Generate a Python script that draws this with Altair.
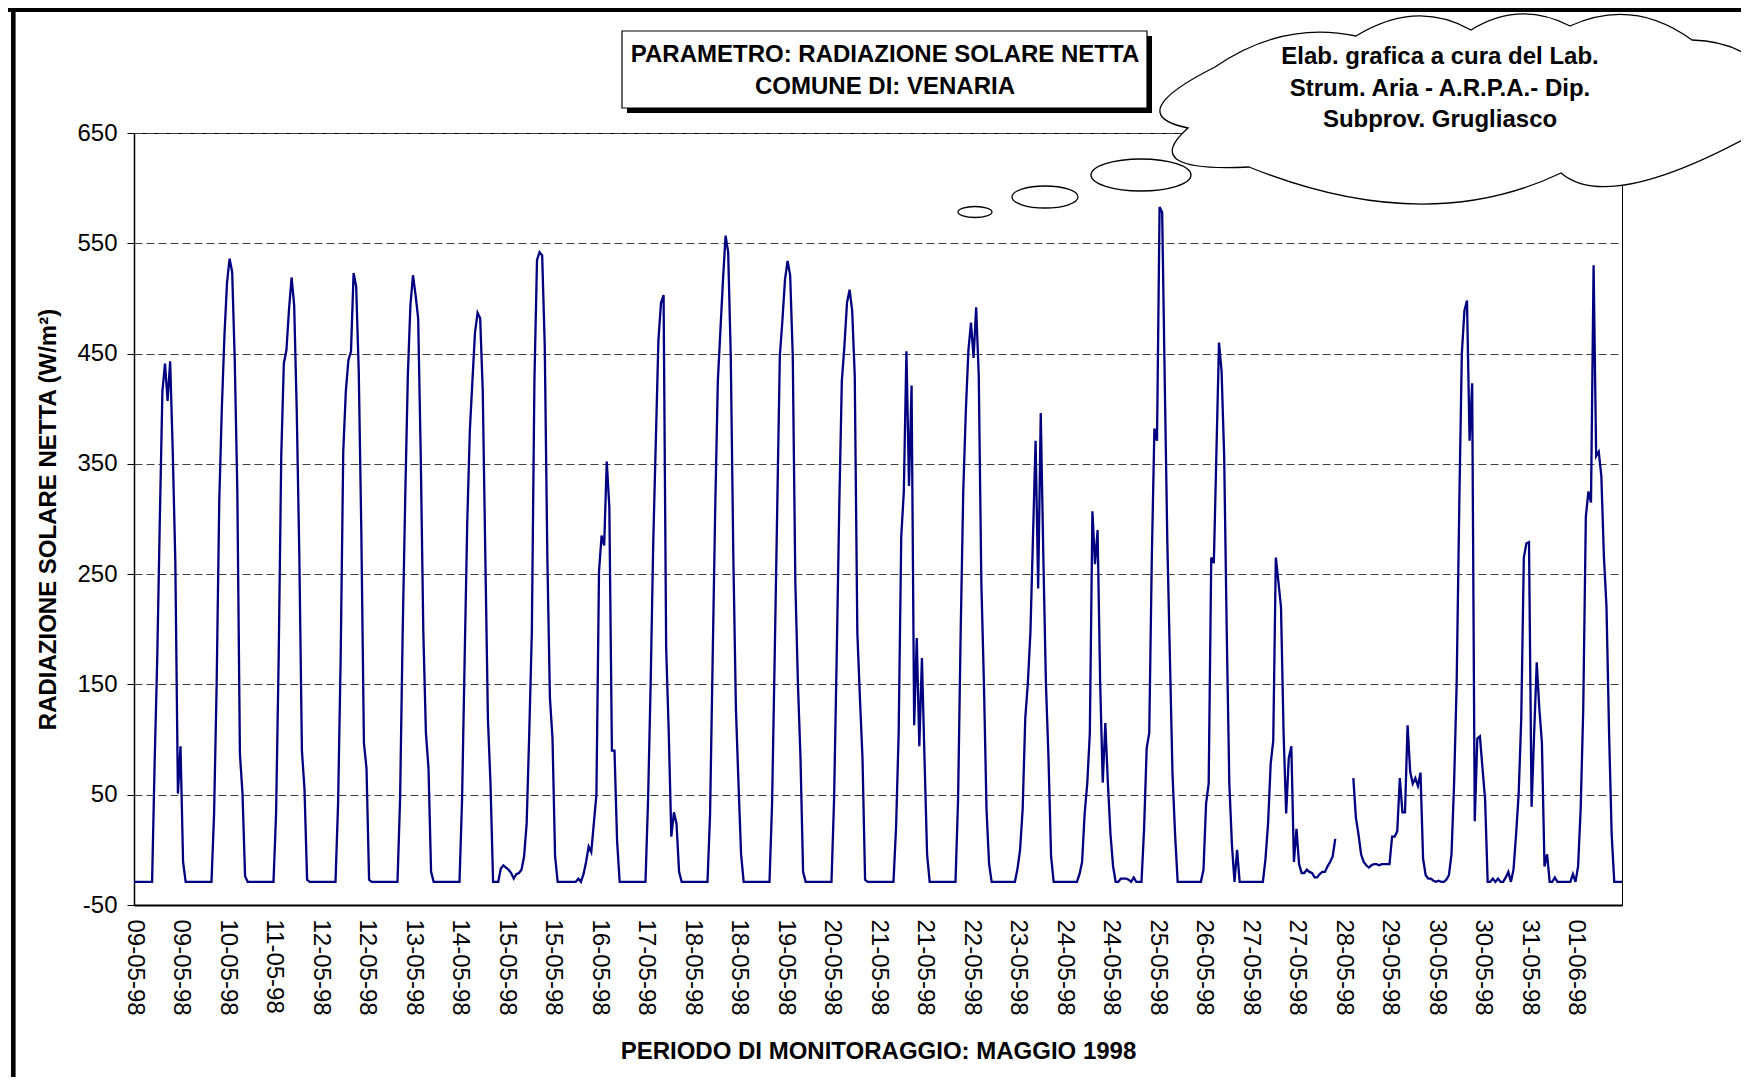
import altair as alt
import pandas as pd

# ---------------- data: hourly net solar radiation (W/m2), one list per day ----------------
may09 = [-29, -29, -29, -29, -29, -29, -29, -29, 80, 174, 300, 416, 441, 407, 443, 361, 261, 51, 94, -11, -29, -29, -29, -29]
may10 = [-29, -29, -29, -29, -29, -29, -29, 33, 151, 316, 400, 466, 514, 536, 524, 444, 325, 87, 51, -24, -29, -29, -29, -29]
may11 = [-29, -29, -29, -29, -29, -29, -29, 33, 174, 357, 441, 453, 490, 519, 494, 398, 266, 90, 55, -27, -29, -29, -29, -29]
may12 = [-29, -29, -29, -29, -29, -29, -29, 42, 174, 361, 416, 444, 452, 523, 511, 434, 288, 97, 74, -27, -29, -29, -29, -29]
may13 = [-29, -29, -29, -29, -29, -29, -29, 46, 197, 320, 430, 494, 521, 503, 482, 357, 197, 106, 74, -20, -29, -29, -29, -29]
may14 = [-29, -29, -29, -29, -29, -29, -29, 46, 174, 297, 380, 425, 469, 487, 482, 416, 266, 119, 60, -29, -29, -29, -17, -14]
may15 = [-16, -18, -21, -26, -22, -21, -18, -6, 24, 106, 197, 425, 535, 542, 539, 457, 266, 138, 101, -6, -29, -29, -29, -29]
may16 = [-29, -29, -29, -29, -26, -29, -22, -11, 3, -2, 24, 50, 252, 285, 276, 352, 311, 90, 90, 8, -29, -29, -29, -29]
may17 = [-29, -29, -29, -29, -29, -29, -29, 46, 151, 279, 371, 462, 496, 503, 183, 106, 12, 34, 24, -20, -29, -29, -29, -29]
may18 = [-29, -29, -29, -29, -29, -29, -29, 33, 174, 311, 425, 471, 517, 557, 542, 448, 266, 128, 60, -4, -29, -29, -29, -29]
may19 = [-29, -29, -29, -29, -29, -29, -29, 42, 174, 311, 448, 480, 517, 534, 521, 448, 243, 151, 83, -20, -29, -29, -29, -29]
may20 = [-29, -29, -29, -29, -29, -29, -29, 46, 174, 311, 425, 457, 496, 508, 489, 430, 197, 138, 83, -27, -29, -29, -29, -29]
may21 = [-29, -29, -29, -29, -29, -29, -29, 21, 106, 284, 325, 452, 330, 421, 113, 192, 94, 174, 83, -4, -29, -29, -29, -29]
may22 = [-29, -29, -29, -29, -29, -29, -29, 46, 197, 325, 398, 453, 478, 446, 492, 430, 243, 151, 37, -13, -29, -29, -29, -29]
may23 = [-29, -29, -29, -29, -29, -29, -17, 0, 37, 119, 151, 197, 284, 371, 237, 396, 266, 151, 83, -6, -29, -29, -29, -29]
may24 = [-29, -29, -29, -29, -29, -29, -22, -11, 33, 60, 106, 307, 259, 290, 151, 61, 115, 60, 14, -15, -29, -29, -26, -26]
may25 = [-26, -27, -29, -25, -29, -29, -29, 19, 92, 106, 266, 382, 371, 583, 578, 425, 279, 174, 69, 14, -29, -29, -29, -29]
may26 = [-29, -29, -29, -29, -29, -29, -18, 42, 60, 265, 260, 360, 460, 434, 357, 197, 60, 5, -29, 0, -29, -29, -29, -29]
may27 = [-29, -29, -29, -29, -29, -29, -8, 24, 78, 99, 265, 243, 220, 106, 33, 83, 94, -11, 19, -13, -21, -21, -18, -20]
may28 = [-21, -25, -25, -22, -20, -20, -15, -11, -6, 10, None, None, None, None, None, None, 65, 29, 14, -4, -11, -14, -16, -14]
may29 = [-13, -13, -14, -13, -13, -13, -13, 12, 12, 17, 65, 34, 34, 113, 71, 60, 65, 58, 70, -8, -23, -26, -26, -28]
may30 = [-29, -28, -29, -29, -27, -23, -4, 60, 151, 311, 450, 489, 498, 371, 423, 26, 101, 103, 74, 46, -29, -29, -26, -29]
may31 = [-26, -29, -29, -25, -20, -29, -18, 14, 51, 119, 265, 278, 279, 39, 106, 170, 128, 97, -15, -4, -29, -29, -25, -29]
jun01 = [-29, -29, -29, -29, -29, -22, -29, -15, 37, 128, 302, 325, 315, 530, 357, 361, 339, 266, 220, 106, 14, -29, -29, -29]
jun02 = [-29]

x_labels = ["09-05-98", "09-05-98", "10-05-98", "11-05-98", "12-05-98", "12-05-98", "13-05-98",
            "14-05-98", "15-05-98", "15-05-98", "16-05-98", "17-05-98", "18-05-98", "18-05-98",
            "19-05-98", "20-05-98", "21-05-98", "21-05-98", "22-05-98", "23-05-98", "24-05-98",
            "24-05-98", "25-05-98", "26-05-98", "27-05-98", "27-05-98", "28-05-98", "29-05-98",
            "30-05-98", "30-05-98", "31-05-98", "01-06-98"]
y_ticks = [-50, 50, 150, 250, 350, 450, 550, 650]

days = [may09, may10, may11, may12, may13, may14, may15, may16, may17, may18, may19, may20,
        may21, may22, may23, may24, may25, may26, may27, may28, may29, may30, may31, jun01, jun02]
values = [v for d in days for v in d]

rows = []
seg = 0
in_gap = False
for h, v in enumerate(values):
    if v is None:
        if not in_gap:
            seg += 1
        in_gap = True
        continue
    in_gap = False
    rows.append({"h": h, "v": v, "seg": seg})
df = pd.DataFrame(rows)

FONT = "Liberation Sans, Arial, sans-serif"
W, H = 1488, 772

label_arr = "[" + ",".join("'%s'" % s for s in x_labels) + "]"
label_expr = label_arr + "[round(datum.value / 18)]"

line = alt.Chart(df).mark_line(color="#000080", strokeWidth=2.3).encode(
    x=alt.X("h:Q",
            scale=alt.Scale(domain=[0, len(values) - 1], nice=False, zero=False),
            axis=alt.Axis(values=list(range(0, 576, 18)), labelExpr=label_expr,
                          labelAngle=90, labelAlign="left", labelBaseline="middle",
                          ticks=False, labelPadding=14, labelFontSize=24, grid=False,
                          domainWidth=2,
                          title="PERIODO DI MONITORAGGIO: MAGGIO 1998",
                          titleX=W / 2, titleY=146, titleAlign="center",
                          titleBaseline="middle", titleFontSize=24, titleFontWeight="bold")),
    y=alt.Y("v:Q",
            scale=alt.Scale(domain=[-50, 650], nice=False, zero=False),
            axis=alt.Axis(values=y_ticks, labelExpr="'' + datum.value",
                          tickSize=7, tickColor="black", labelPadding=10,
                          labelFontSize=24, grid=True, gridDash=[8, 4], gridColor="#404040",
                          gridWidth=1, domainWidth=1.5,
                          title="RADIAZIONE SOLARE NETTA (W/m²)",
                          titleAngle=270, titleX=-86, titleY=H / 2, titleAlign="center",
                          titleBaseline="middle", titleFontSize=24, titleFontWeight="bold")),
    detail="seg:N",
)

one = pd.DataFrame({"k": [0]})


def txt(s, x, y):
    return alt.Chart(one).mark_text(text=s, font=FONT, fontSize=24, fontWeight="bold",
                                    align="center", baseline="middle", color="black").encode(
        x=alt.value(x), y=alt.value(y))


# frame (top and left thick lines)
frame_top = alt.Chart(one).mark_rule(color="black", strokeWidth=4, strokeCap="butt").encode(
    x=alt.value(-126), x2=alt.value(1610), y=alt.value(-123))
frame_left = alt.Chart(one).mark_rule(color="black", strokeWidth=4.6, strokeCap="butt").encode(
    x=alt.value(-120.7), y=alt.value(-125), y2=alt.value(950))

# title box with shadow
shadow = alt.Chart(one).mark_rect(color="black").encode(
    x=alt.value(493), x2=alt.value(1018), y=alt.value(-97), y2=alt.value(-20))
box = alt.Chart(one).mark_rect(fill="white", stroke="black", strokeWidth=1.2).encode(
    x=alt.value(488), x2=alt.value(1013), y=alt.value(-102), y2=alt.value(-25))

# cloud shape (page-pixel outline -> symbol path)
CX, CY, S = 1460.0, 110.0, 100.0
cloud_start = (1188, 128)
cloud_bumps = [((1161, 106), (1215, 67)), ((1284, 36), (1356, 36)), ((1415, 16), (1471, 30)),
               ((1520, 14), (1570, 26)), ((1632, 15), (1692, 40)), ((1742, 52), (1775, 85)),
               ((1775, 103), (1775, 122)), ((1640, 182), (1561, 173)),
               ((1415, 204), (1249, 167)), ((1178, 160), (1188, 128))]


def P(x, y):
    return "%.4f,%.4f" % ((x - CX) / S, (y - CY) / S)


path = "M" + P(*cloud_start)
prev = cloud_start
for (mx, my), (ex, ey) in cloud_bumps:
    cx_ = 2 * mx - (prev[0] + ex) / 2
    cy_ = 2 * my - (prev[1] + ey) / 2
    path += " Q" + P(cx_, cy_) + " " + P(ex, ey)
    prev = (ex, ey)
path += " Z"

cloud = alt.Chart(one).mark_point(shape=path, size=(2 * S) ** 2, filled=True, fill="white",
                                  stroke="black", strokeWidth=1.3, opacity=1).encode(
    x=alt.value(CX - 134), y=alt.value(CY - 133))


def ellipse(rx, ry):
    k = 0.5523
    a, b = rx / S, ry / S
    return ("M%.4f,0 C%.4f,%.4f %.4f,%.4f 0,%.4f C%.4f,%.4f %.4f,%.4f %.4f,0 "
            "C%.4f,%.4f %.4f,%.4f 0,%.4f C%.4f,%.4f %.4f,%.4f %.4f,0 Z") % (
        -a, -a, -k * b, -k * a, -b, -b, k * a, -b, a, -k * b, a,
        a, k * b, k * a, b, b, -k * a, b, -a, k * b, -a)


bubble_specs = [(975, 212, 17, 5.5), (1045, 197, 33, 11), (1141, 175, 50, 16)]
bubbles = [alt.Chart(one).mark_point(shape=ellipse(rx, ry), size=(2 * S) ** 2, filled=True,
                                     fill="white", stroke="black", strokeWidth=1.3,
                                     opacity=1).encode(x=alt.value(bx - 134), y=alt.value(by - 133))
           for bx, by, rx, ry in bubble_specs]

title_lines = [txt("PARAMETRO: RADIAZIONE SOLARE NETTA", 751, -78),
               txt("COMUNE DI: VENARIA", 751, -46)]
cloud_lines = [txt("Elab. grafica a cura del Lab.", 1306, -76),
               txt("Strum. Aria - A.R.P.A.- Dip.", 1306, -44),
               txt("Subprov. Grugliasco", 1306, -13)]

chart = alt.layer(line, frame_top, frame_left, shadow, box, *title_lines, *bubbles, cloud,
                  *cloud_lines).properties(
    width=W, height=H,
    padding={"left": 126, "top": 125, "right": 119, "bottom": 172},
    autosize=alt.AutoSizeParams(type="none"),
    background="white",
).configure_view(stroke="black", strokeWidth=1).configure_axis(
    domainColor="black", labelFont=FONT, titleFont=FONT, labelColor="black", titleColor="black")

chart.save("out.html", embed_options={"renderer": "svg", "actions": False})
